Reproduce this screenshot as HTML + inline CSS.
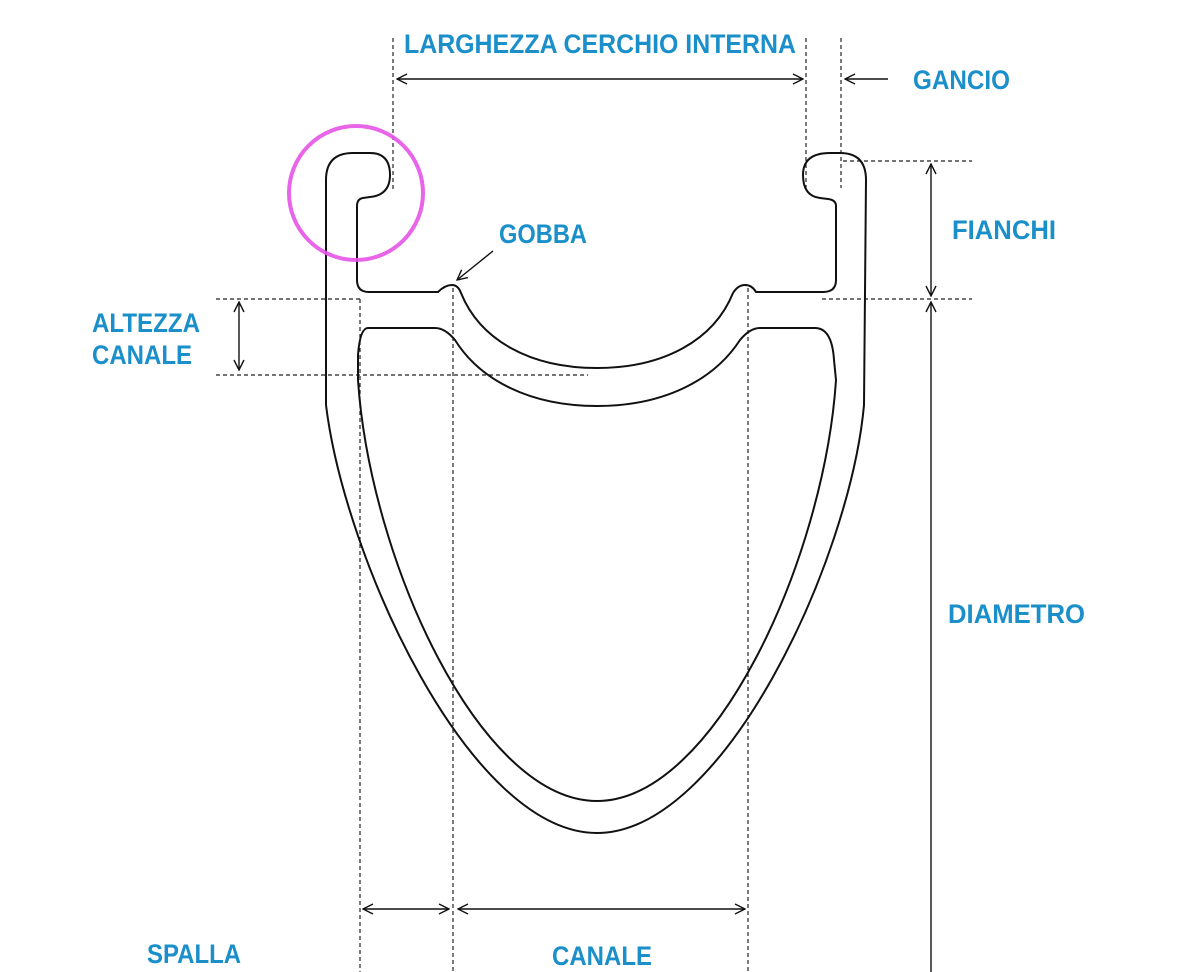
<!DOCTYPE html>
<html><head><meta charset="utf-8"><style>
html,body{margin:0;padding:0;background:#fff}
svg{display:block}
text{font-family:"Liberation Sans",sans-serif;font-weight:bold;fill:#1a8fc9;font-size:27px}
</style></head><body>
<svg width="1200" height="972" viewBox="0 0 1200 972" xmlns="http://www.w3.org/2000/svg">
<defs>
<marker id="a" viewBox="0 0 12 12" refX="11" refY="6" markerWidth="12" markerHeight="12" markerUnits="userSpaceOnUse" orient="auto-start-reverse">
<path d="M1,1 L11,6 L1,11" fill="none" stroke="#111" stroke-width="1.4"/>
</marker>
</defs>
<g fill="none" stroke="#222" stroke-width="1.2" stroke-dasharray="4,3">
<line x1="393" y1="38" x2="393" y2="190"/>
<line x1="806" y1="38" x2="806" y2="190"/>
<line x1="841" y1="38" x2="841" y2="188"/>
<line x1="843" y1="161" x2="972" y2="161"/>
<line x1="822" y1="299" x2="972" y2="299"/>
<line x1="216" y1="299" x2="360" y2="299"/>
<line x1="216" y1="375" x2="588" y2="375"/>
<line x1="360" y1="299" x2="360" y2="972"/>
<line x1="453" y1="288" x2="453" y2="972"/>
<line x1="748" y1="288" x2="748" y2="972"/>
</g>
<g fill="none" stroke="#111" stroke-width="1.4">
<line x1="397" y1="79" x2="803" y2="79" marker-start="url(#a)" marker-end="url(#a)"/>
<line x1="888" y1="79" x2="845" y2="79" marker-end="url(#a)"/>
<line x1="931" y1="164" x2="931" y2="296" marker-start="url(#a)" marker-end="url(#a)"/>
<line x1="931" y1="302" x2="931" y2="972" marker-start="url(#a)"/>
<line x1="239" y1="302" x2="239" y2="370" marker-start="url(#a)" marker-end="url(#a)"/>
<line x1="363" y1="909" x2="449" y2="909" marker-start="url(#a)" marker-end="url(#a)"/>
<line x1="458" y1="909" x2="745" y2="909" marker-start="url(#a)" marker-end="url(#a)"/>
<line x1="493" y1="251" x2="457" y2="280" marker-end="url(#a)"/>
</g>
<g fill="none" stroke="#111" stroke-width="2">
<path d="M326,405 L326,180 Q326,153 353,153 L370,153 Q390,153 390,175 Q390,195 370,197 L363,198 Q357,199 357,206 L357,280 Q357,292 369,292 L438,292 Q445,285 452,285 Q458,285 461,293 C480,340 530,368 597,368 C664,368 714,340 733,293 Q738,285 745,285 Q752,285 756,292 L823,292 Q836,292 836,280 L836,206 Q836,200 828,199 L820,198 Q803,196 803,175 Q803,153 830,153 L840,153 Q866,153 866,180 L864,405 C850,560 724,833 597,833 C470,833 345,560 326,405 Z"/>
<path d="M368,328 L435,328 Q445,328 455,340 C480,380 530,406 597,406 C664,406 714,380 740,340 Q750,328 760,328 L815,328 Q832,328 834,360 L836,380 C824,560 714,801 597,801 C480,801 370,560 358,380 L358,355 Q360,328 368,328 Z"/>
</g>
<circle cx="356" cy="193" r="67" fill="none" stroke="#e653e6" stroke-width="4" opacity="0.9"/>
<text x="404" y="53" textLength="392" lengthAdjust="spacingAndGlyphs">LARGHEZZA CERCHIO INTERNA</text>
<text x="913" y="89" textLength="97" lengthAdjust="spacingAndGlyphs">GANCIO</text>
<text x="952" y="239" textLength="104" lengthAdjust="spacingAndGlyphs">FIANCHI</text>
<text x="499" y="243" textLength="88" lengthAdjust="spacingAndGlyphs">GOBBA</text>
<text x="92" y="332" textLength="108" lengthAdjust="spacingAndGlyphs">ALTEZZA</text>
<text x="92" y="364" textLength="100" lengthAdjust="spacingAndGlyphs">CANALE</text>
<text x="948" y="623" textLength="137" lengthAdjust="spacingAndGlyphs">DIAMETRO</text>
<text x="147" y="963" textLength="94" lengthAdjust="spacingAndGlyphs">SPALLA</text>
<text x="552" y="965" textLength="100" lengthAdjust="spacingAndGlyphs">CANALE</text>
</svg>
</body></html>
